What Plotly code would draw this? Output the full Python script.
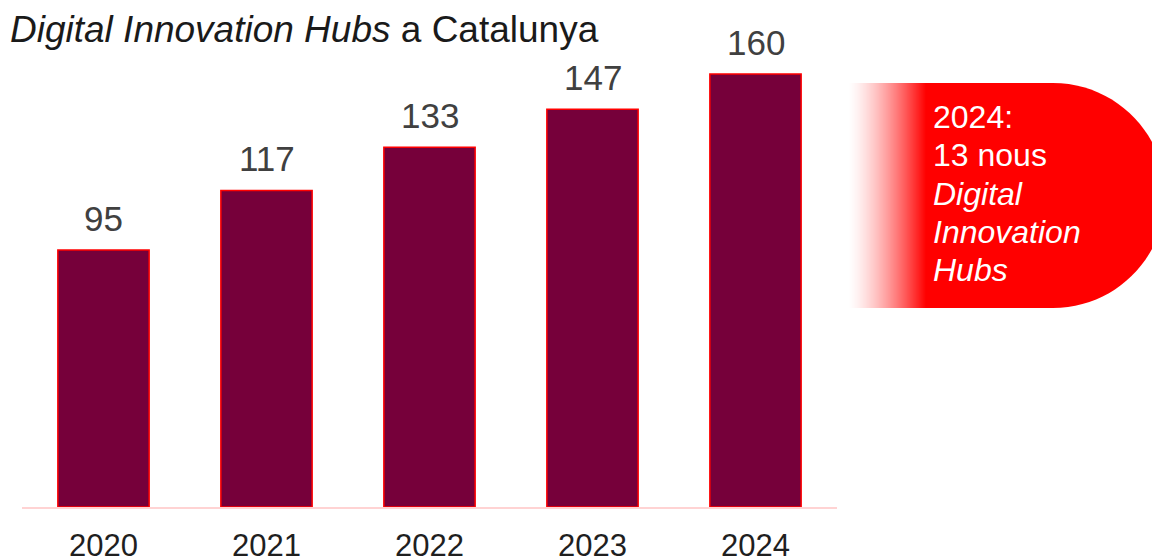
import plotly.graph_objects as go

years = [2020, 2021, 2022, 2023, 2024]
year_labels = ["2020", "2021", "2022", "2023", "2024"]
hubs = [95, 117, 133, 147, 160]

title_html = "<i>Digital Innovation Hubs</i> a Catalunya"
callout_lines = ["2024:", "13 nous", "<i>Digital</i>", "<i>Innovation</i>", "<i>Hubs</i>"]

W, H = 1152, 558
BAR_COLOR = "#76003A"
RED = "#FF0000"
FONT = "Liberation Sans, Arial, sans-serif"


def px(x):
    return x / W


def py(y):
    return 1 - y / H


fig = go.Figure()
fig.add_trace(go.Bar(
    x=years, y=hubs, width=0.56,
    marker=dict(color=BAR_COLOR, line=dict(color=RED, width=1.5)),
    hoverinfo="skip",
))

# value labels above bars
for yr, v in zip(years, hubs):
    fig.add_annotation(x=yr, y=v, xref="x", yref="y", text=str(v), showarrow=False,
                       yanchor="bottom", yshift=10,
                       font=dict(family=FONT, size=35, color="#404040"))

# title
fig.add_annotation(x=px(8), y=py(7), xref="paper", yref="paper", xanchor="left", yanchor="top",
                   text=title_html, showarrow=False,
                   font=dict(family=FONT, size=37, color="#1a1a1a"))

shapes = []
# gradient on left of callout (1px strips)
g0, g1 = 848, 926
n = g1 - g0
for i in range(n):
    t = (i + 0.5) / n
    shapes.append(dict(type="rect", xref="paper", yref="paper",
                       x0=px(g0 + i), x1=px(g0 + i + 1),
                       y0=py(308), y1=py(83), fillcolor=RED, opacity=t ** 1.4,
                       line=dict(width=0), layer="above"))
# solid stadium body
cx, r, top, bot = 1053, 112.5, 83, 308
k = 0.5523 * r
mid = (top + bot) / 2
path = (f"M {px(926)},{py(top)} L {px(cx)},{py(top)} "
        f"C {px(cx + k)},{py(top)} {px(cx + r)},{py(mid - k)} {px(cx + r)},{py(mid)} "
        f"C {px(cx + r)},{py(mid + k)} {px(cx + k)},{py(bot)} {px(cx)},{py(bot)} "
        f"L {px(926)},{py(bot)} Z")
shapes.append(dict(type="path", xref="paper", yref="paper", path=path,
                   fillcolor=RED, line=dict(width=0), layer="above"))

line_y0, line_dy = 117, 38.3
for i, line in enumerate(callout_lines):
    fig.add_annotation(x=px(931), y=py(line_y0 + i * line_dy), xref="paper", yref="paper",
                       xanchor="left", yanchor="middle", align="left", text=line, showarrow=False,
                       font=dict(family=FONT, size=32, color="white"))

fig.update_layout(
    width=W, height=H,
    margin=dict(l=0, r=0, t=0, b=0),
    paper_bgcolor="white", plot_bgcolor="white",
    showlegend=False,
    shapes=shapes,
    xaxis=dict(type="linear", domain=[22 / W, 837 / W], range=[years[0] - 0.5, years[-1] + 0.5],
               tickmode="array", tickvals=years, ticktext=year_labels,
               showline=True, linecolor="#FFD3D3",
               linewidth=1.5, showgrid=False, zeroline=False, ticks="", ticklabelstandoff=10,
               tickfont=dict(family=FONT, size=31, color="#1f1f1f"), automargin=False),
    yaxis=dict(domain=[(H - 507) / H, (H - 20) / H], range=[0, 180], visible=False,
               showgrid=False, zeroline=False),
)

fig.write_html("out.html")
